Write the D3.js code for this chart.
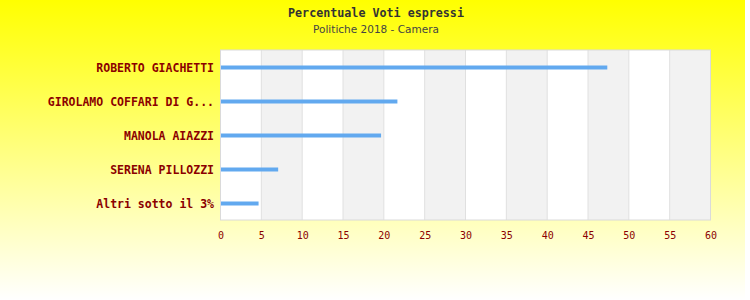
<!DOCTYPE html>
<html>
<head>
<meta charset="utf-8">
<script src="https://cdn.jsdelivr.net/npm/d3@7"></script>
<style>
  body { margin: 0; background: #fff; }
</style>
</head>
<body>
<div id="chart"></div>
<script>
// data
var candidates = ["ROBERTO GIACHETTI", "GIROLAMO COFFARI DI G...", "MANOLA AIAZZI", "SERENA PILLOZZI", "Altri sotto il 3%"];
var percentages = [47.3, 21.6, 19.6, 7.0, 4.6];
var xTicks = [0, 5, 10, 15, 20, 25, 30, 35, 40, 45, 50, 55, 60];

var w = 750, h = 300;
var margin = { top: 50, right: 40, bottom: 80, left: 220.5 };

var svg = d3.select("#chart").append("svg")
    .attr("width", w)
    .attr("height", h);

// background gradient
var grad = svg.append("defs").append("linearGradient")
    .attr("id", "bg")
    .attr("x1", 0).attr("y1", 0).attr("x2", 0).attr("y2", 1);
grad.append("stop").attr("offset", "0%").attr("stop-color", "#ffff00");
grad.append("stop").attr("offset", "100%").attr("stop-color", "#ffffff");

svg.append("rect")
    .attr("width", 745)
    .attr("height", h)
    .attr("fill", "url(#bg)");

var x = d3.scaleLinear()
    .domain([0, 60])
    .range([margin.left, margin.left + 490]);

var y = d3.scaleBand()
    .domain(candidates)
    .range([margin.top + 0.5, margin.top + 170.5]);

// plot background
svg.append("rect")
    .attr("x", x(0))
    .attr("y", margin.top)
    .attr("width", x(60) - x(0))
    .attr("height", 170)
    .attr("fill", "#ffffff");

// alternating bands
var bands = d3.range(0, xTicks.length - 1).filter(function(i) { return i % 2 === 1; });
svg.append("g").selectAll("rect")
    .data(bands)
    .enter()
    .append("rect")
    .attr("x", function(i) { return x(xTicks[i]); })
    .attr("y", margin.top)
    .attr("width", function(i) { return x(xTicks[i + 1]) - x(xTicks[i]); })
    .attr("height", 170)
    .attr("fill", "#f2f2f2");

// grid lines
svg.append("g").selectAll("line")
    .data(xTicks.slice(1, -1))
    .enter()
    .append("line")
    .attr("x1", function(d) { return x(d); })
    .attr("x2", function(d) { return x(d); })
    .attr("y1", margin.top)
    .attr("y2", margin.top + 170)
    .style("stroke", "#e0e0e0")
    .style("stroke-width", 1);

// border
svg.append("rect")
    .attr("x", x(0))
    .attr("y", margin.top)
    .attr("width", x(60) - x(0))
    .attr("height", 170)
    .attr("fill", "none")
    .style("stroke", "#dadada")
    .style("stroke-width", 1);

// bars
svg.append("g").selectAll("rect")
    .data(candidates)
    .enter()
    .append("rect")
    .attr("x", x(0) + 0.5)
    .attr("y", function(d) { return y(d) + y.bandwidth() / 2 - 2; })
    .attr("width", function(d, i) { return x(percentages[i]) - x(0); })
    .attr("height", 4)
    .attr("fill", "#62a9ef");

// category labels
svg.append("g").selectAll("text")
    .data(candidates)
    .enter()
    .append("text")
    .attr("x", 214)
    .attr("y", function(d) { return y(d) + y.bandwidth() / 2 + 0.5; })
    .attr("dy", "0.35em")
    .attr("text-anchor", "end")
    .style("font-family", "'DejaVu Sans Mono', monospace")
    .style("font-weight", "bold")
    .style("font-size", "11.5px")
    .style("fill", "#8b0000")
    .text(function(d) { return d; });

// x axis tick labels
var xAxis = d3.axisBottom(x)
    .tickValues(xTicks)
    .tickSize(0)
    .tickPadding(0);

var gx = svg.append("g")
    .attr("transform", "translate(0," + 232 + ")")
    .call(xAxis);
gx.select(".domain").remove();
gx.selectAll("text")
    .style("font-family", "'DejaVu Sans Mono', monospace")
    .style("font-size", "10px")
    .style("fill", "#8b0000");

// titles
svg.append("text")
    .attr("x", 376)
    .attr("y", 17)
    .attr("text-anchor", "middle")
    .style("font-family", "'DejaVu Sans Mono', monospace")
    .style("font-weight", "bold")
    .style("font-size", "11.7px")
    .style("fill", "#333333")
    .text("Percentuale Voti espressi");

svg.append("text")
    .attr("x", 376)
    .attr("y", 33)
    .attr("text-anchor", "middle")
    .style("font-family", "'DejaVu Sans', sans-serif")
    .style("font-size", "10.5px")
    .style("fill", "#444444")
    .text("Politiche 2018 - Camera");
</script>
</body>
</html>
